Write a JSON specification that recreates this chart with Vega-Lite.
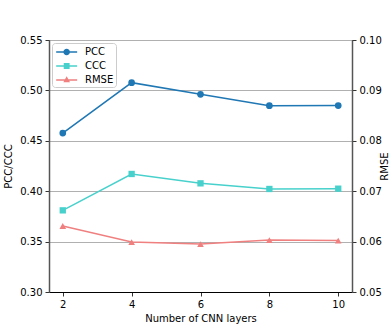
{
  "$schema": "https://vega.github.io/schema/vega-lite/v6.json",
  "width": 303,
  "height": 252,
  "autosize": {"type": "none"},
  "padding": {"left": 49, "top": 40, "right": 39, "bottom": 37},
  "background": "white",
  "config": {
    "font": "DejaVu Sans",
    "view": {"stroke": "black", "strokeWidth": 1},
    "axis": {"labelFont": "DejaVu Sans", "titleFont": "DejaVu Sans", "labelFontSize": 10, "titleFontSize": 10, "titleFontWeight": "normal", "labelColor": "black", "titleColor": "black", "tickColor": "#333", "tickSize": 4, "labelPadding": 3}
  },
  "data": {
    "values": [
      {"layers": 2, "metric": "PCC", "value": 0.4577},
      {"layers": 4, "metric": "PCC", "value": 0.5077},
      {"layers": 6, "metric": "PCC", "value": 0.4961},
      {"layers": 8, "metric": "PCC", "value": 0.4848},
      {"layers": 10, "metric": "PCC", "value": 0.4849},
      {"layers": 2, "metric": "CCC", "value": 0.381},
      {"layers": 4, "metric": "CCC", "value": 0.4171},
      {"layers": 6, "metric": "CCC", "value": 0.4078},
      {"layers": 8, "metric": "CCC", "value": 0.4022},
      {"layers": 10, "metric": "CCC", "value": 0.4025},
      {"layers": 2, "metric": "RMSE", "value": 0.0631},
      {"layers": 4, "metric": "RMSE", "value": 0.0599},
      {"layers": 6, "metric": "RMSE", "value": 0.0595},
      {"layers": 8, "metric": "RMSE", "value": 0.0603},
      {"layers": 10, "metric": "RMSE", "value": 0.0602}
    ]
  },
  "encoding": {
    "x": {
      "field": "layers", "type": "quantitative",
      "scale": {"domain": [1.6, 10.4], "nice": false, "zero": false},
      "axis": {"values": [2, 4, 6, 8, 10], "title": "Number of CNN layers", "grid": false, "domainColor": "black", "titlePadding": 4}
    },
    "color": {
      "field": "metric", "type": "nominal",
      "scale": {"domain": ["PCC", "CCC", "RMSE"], "range": ["#1f77b4", "#48d1cc", "#f08080"]}
    }
  },
  "layer": [
    {
      "transform": [{"filter": "datum.metric !== 'RMSE'"}],
      "encoding": {
        "y": {
          "field": "value", "type": "quantitative",
          "scale": {"domain": [0.3, 0.55], "nice": false, "zero": false},
          "axis": {"values": [0.3, 0.35, 0.4, 0.45, 0.5, 0.55], "format": ".2f", "title": "PCC/CCC", "grid": true, "gridColor": "#b0b0b0", "gridWidth": 1, "domainColor": "#555", "domainWidth": 1.5, "titlePadding": 6}
        }
      },
      "layer": [
        {
          "mark": {"type": "line", "strokeWidth": 1.5},
          "encoding": {
            "color": {
              "field": "metric", "type": "nominal",
              "legend": {
                "title": null, "orient": "none", "legendX": 3, "legendY": 3,
                "direction": "vertical",
                "padding": 2, "strokeColor": "#cccccc", "fillColor": "rgba(255,255,255,0.8)", "cornerRadius": 3,
                "labelFont": "DejaVu Sans", "labelFontSize": 10, "labelColor": "black",
                "symbolSize": 196, "rowPadding": 2, "labelOffset": 17,
                "encode": {
                  "symbols": {
                    "update": {
                      "shape": {"signal": "datum.value === 'PCC' ? 'M-0.69,-0.1H2.31V0.1H-0.69Z M1.28,0A0.47,0.47,0,1,1,0.34,0A0.47,0.47,0,1,1,1.28,0Z' : datum.value === 'CCC' ? 'M-0.69,-0.1H2.31V0.1H-0.69Z M0.39,-0.42H1.23V0.42H0.39Z' : 'M-0.69,-0.1H2.31V0.1H-0.69Z M0.81,-0.52L1.29,0.33H0.33Z'"},
                      "fill": {"signal": "datum.value === 'PCC' ? '#1f77b4' : datum.value === 'CCC' ? '#48d1cc' : '#f08080'"},
                      "strokeWidth": {"value": 0},
                      "opacity": {"value": 1}
                    }
                  }
                }
              }
            }
          }
        },
        {
          "transform": [{"filter": "datum.metric === 'PCC'"}],
          "mark": {"type": "point", "filled": true, "size": 45, "opacity": 1, "shape": "circle"},
          "encoding": {"color": {"field": "metric", "type": "nominal", "legend": null}}
        },
        {
          "transform": [{"filter": "datum.metric === 'CCC'"}],
          "mark": {"type": "point", "filled": true, "size": 40, "opacity": 1, "shape": "square"},
          "encoding": {"color": {"field": "metric", "type": "nominal", "legend": null}}
        }
      ]
    },
    {
      "transform": [{"filter": "datum.metric === 'RMSE'"}],
      "encoding": {
        "y": {
          "field": "value", "type": "quantitative",
          "scale": {"domain": [0.05, 0.1], "nice": false, "zero": false},
          "axis": {"orient": "right", "values": [0.05, 0.06, 0.07, 0.08, 0.09, 0.1], "format": ".2f", "title": "RMSE", "titleAngle": 270, "grid": false, "domainColor": "#555", "domainWidth": 1.5, "titlePadding": 8}
        }
      },
      "layer": [
        {
          "mark": {"type": "line", "strokeWidth": 1.5},
          "encoding": {"color": {"field": "metric", "type": "nominal", "legend": null}}
        },
        {
          "mark": {"type": "point", "filled": true, "size": 45, "opacity": 1, "shape": "triangle-up"},
          "encoding": {"color": {"field": "metric", "type": "nominal", "legend": null}}
        }
      ]
    }
  ],
  "resolve": {"scale": {"y": "independent"}}
}
